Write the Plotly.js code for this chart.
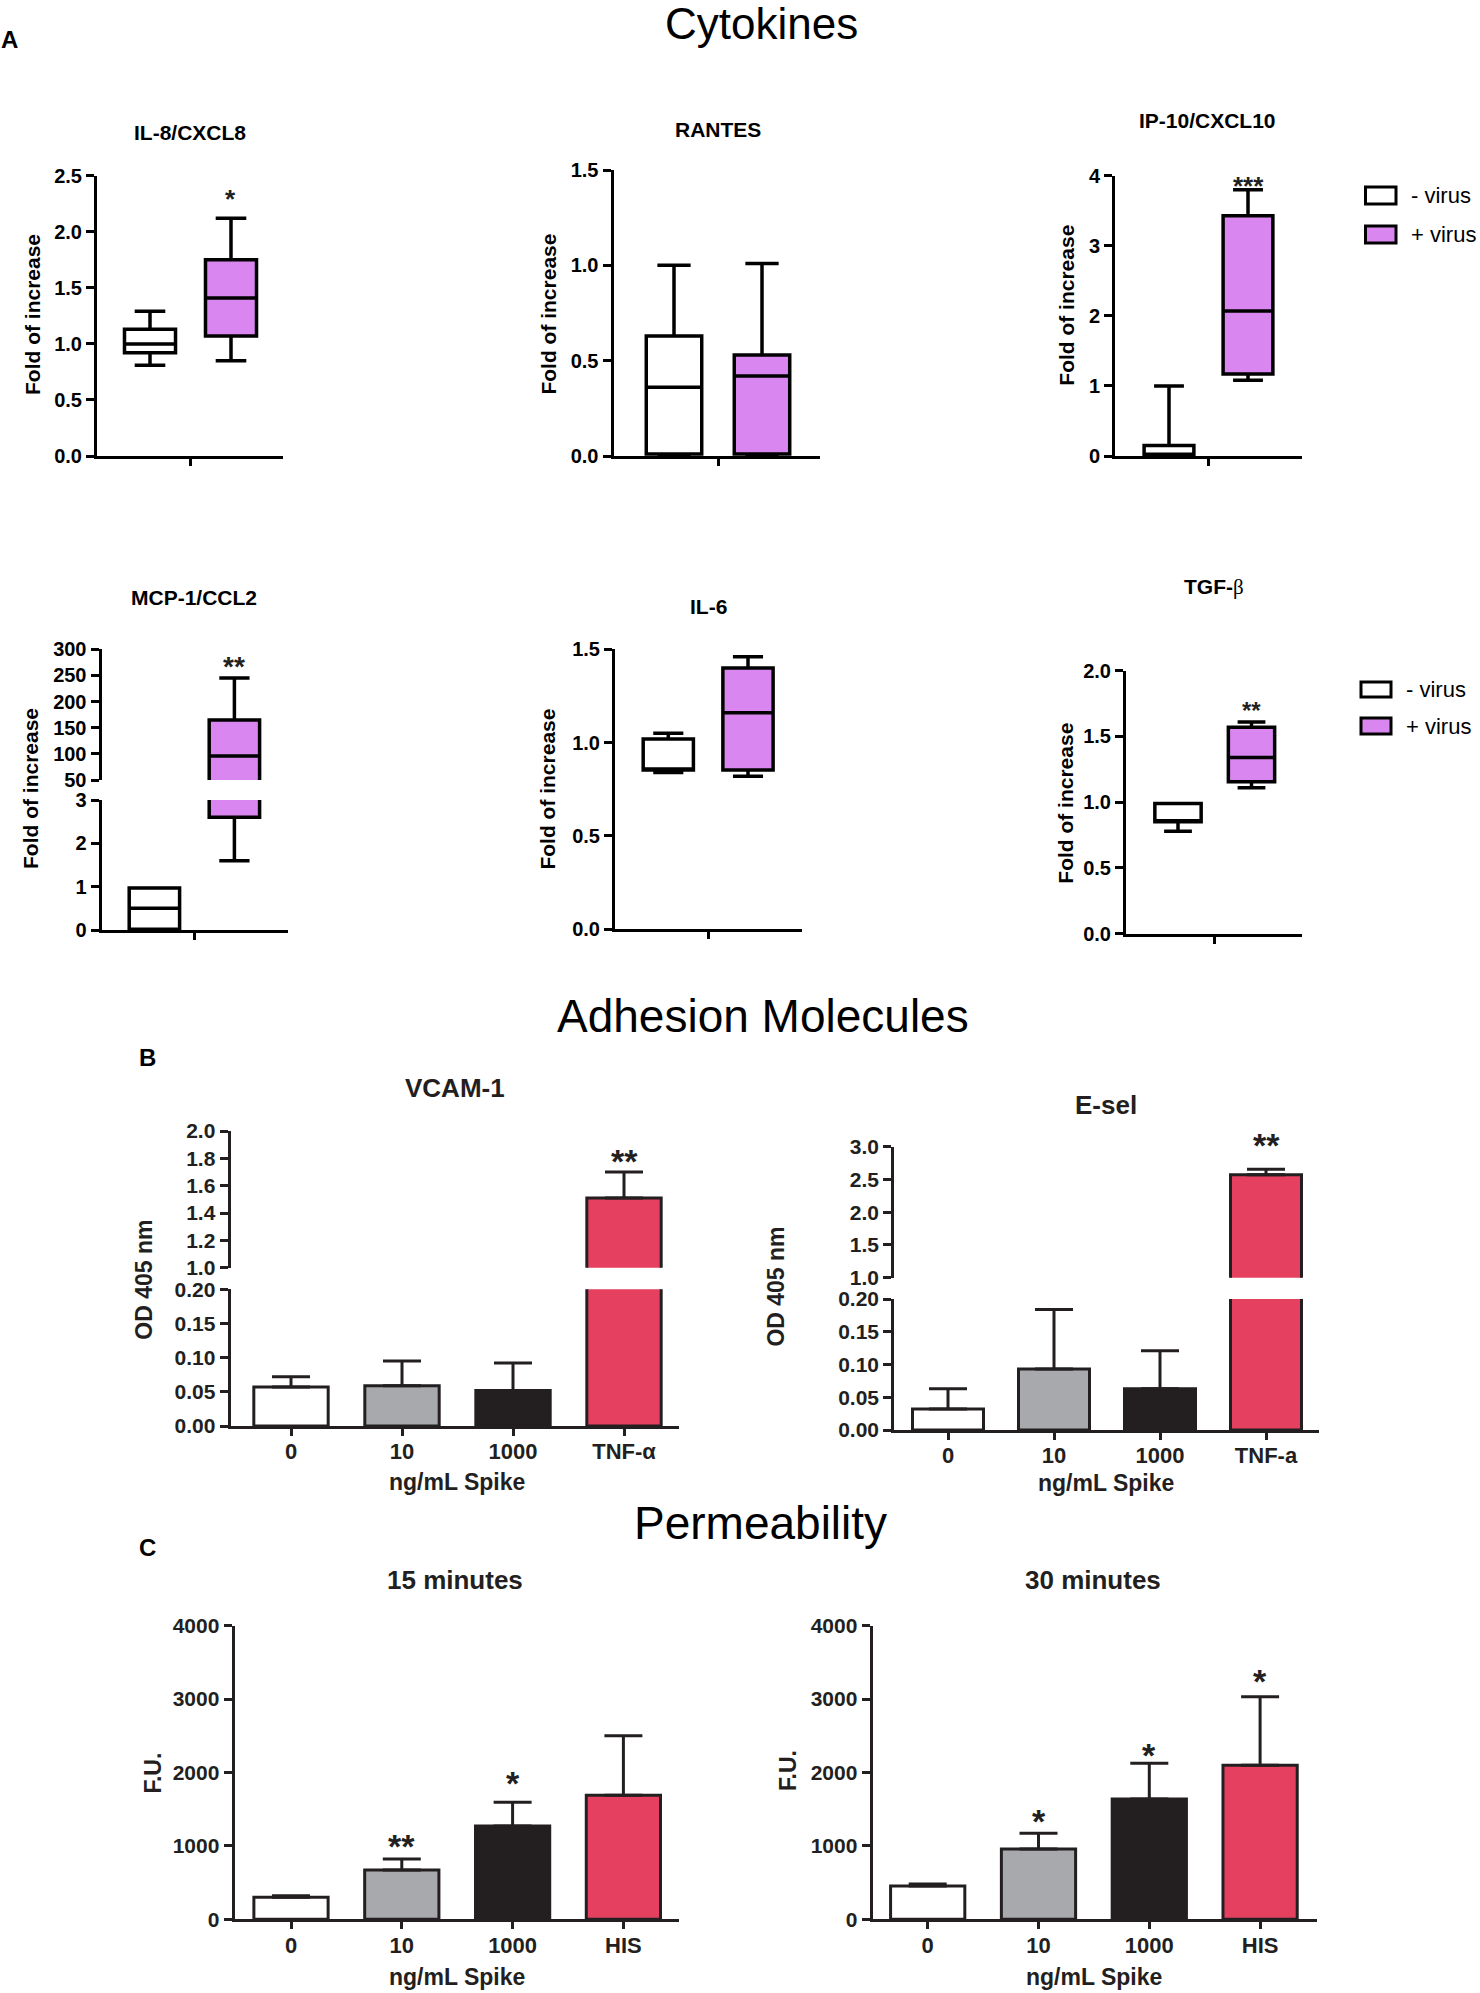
<!DOCTYPE html>
<html>
<head>
<meta charset="utf-8">
<script src="https://cdn.plot.ly/plotly-3.0.1.min.js"></script>
<style>html,body{margin:0;padding:0;background:#fff;}</style>
</head>
<body>
<div id="chart" style="width:1480px;height:1993px;"></div>
<script>
// ================= DATA =================
// Box stats order: [lower whisker, Q1, median, Q3, upper whisker]
const groupLabels = ['- virus', '+ virus'];
const il8Minus    = [0.81, 0.92, 1.00, 1.13, 1.29];
const il8Plus     = [0.85, 1.07, 1.41, 1.75, 2.12];
const rantesMinus = [0.00, 0.01, 0.36, 0.63, 1.00];
const rantesPlus  = [0.00, 0.01, 0.42, 0.53, 1.01];
const ip10Minus   = [0.00, 0.01, 0.02, 0.15, 1.00];
const ip10Plus    = [1.08, 1.17, 2.07, 3.43, 3.80];
const mcpMinus    = [0.00, 0.02, 0.50, 0.97, 0.97];
const mcpPlus     = [1.6, 2.6, 96, 165, 245];
const il6Minus    = [0.84, 0.854, 0.855, 1.02, 1.05];
const il6Plus     = [0.82, 0.854, 1.16, 1.40, 1.46];
const tgfMinus    = [0.78, 0.852, 0.853, 0.99, 0.99];
const tgfPlus     = [1.11, 1.156, 1.34, 1.57, 1.61];
const il8Sig = ['', '*'], rantesSig = ['', ''], ip10Sig = ['', '***'];
const mcpSig = ['', '**'], il6Sig = ['', ''], tgfSig = ['', '**'];

// Bar panels
const vcamLabels  = ['0', '10', '1000', 'TNF-α'];
const eselLabels  = ['0', '10', '1000', 'TNF-a'];
const permLabels  = ['0', '10', '1000', 'HIS'];
const vcamMean    = [0.057, 0.059, 0.052, 1.51];
const vcamErr     = [0.015, 0.036, 0.040, 0.19];
const eselMean    = [0.032, 0.093, 0.063, 2.57];
const eselErr     = [0.031, 0.091, 0.058, 0.085];
const perm15Mean  = [300, 672, 1271, 1689];
const perm15Err   = [22, 150, 323, 813];
const perm30Mean  = [454, 958, 1639, 2098];
const perm30Err   = [27, 213, 486, 935];
const vcamSig = ['', '', '', '**'], eselSig = ['', '', '', '**'];
const perm15Sig = ['', '**', '*', ''], perm30Sig = ['', '*', '*', '*'];

// Tick values
const il8Ticks = [0, 0.5, 1.0, 1.5, 2.0, 2.5];
const rantesTicks = [0, 0.5, 1.0, 1.5];
const ip10Ticks = [0, 1, 2, 3, 4];
const mcpLowTicks = [0, 1, 2, 3];
const mcpHighTicks = [50, 100, 150, 200, 250, 300];
const il6Ticks = [0, 0.5, 1.0, 1.5];
const tgfTicks = [0, 0.5, 1.0, 1.5, 2.0];
const odLowTicks = [0, 0.05, 0.10, 0.15, 0.20];
const vcamHighTicks = [1.0, 1.2, 1.4, 1.6, 1.8, 2.0];
const eselHighTicks = [1.0, 1.5, 2.0, 2.5, 3.0];
const fuTicks = [0, 1000, 2000, 3000, 4000];

// ================= STYLE / LAYOUT =================
const W = 1480, H = 1993;
const FONT = '"Liberation Sans", Arial, Helvetica, sans-serif';
const INK = '#000000', INK2 = '#231F20';
const PURPLE = '#DA86F0';
const BAR_COLORS = ['#FFFFFF', '#A7A9AC', '#231F20', '#E5405F'];
const px = v => v / W;
const py = v => 1 - v / H;

// panel geometry (pixels): x-left, x-right, first category centre, category spacing
const G = {
  il8:    {xl: 97,    xr: 283,    c0: 150,   s: 81,    yt: 175.7, yb: 456},
  rantes: {xl: 613.5, xr: 820,    c0: 674,   s: 88,    yt: 170,   yb: 456},
  ip10:   {xl: 1115,  xr: 1302,   c0: 1169,  s: 79,    yt: 175.7, yb: 456},
  mcp:    {xl: 101.5, xr: 288,    c0: 154.4, s: 80,    yt: 800,   yb: 930, ytU: 649.3, ybU: 780},
  il6:    {xl: 615,   xr: 801.7,  c0: 668.3, s: 79.7,  yt: 649.3, yb: 929.3},
  tgf:    {xl: 1126,  xr: 1301.7, c0: 1178,  s: 73.5,  yt: 670.7, yb: 933.7},
  vcam:   {xl: 230.6, xr: 679.4,  c0: 291,   s: 111,   yt: 1289.3, yb: 1426, ytU: 1131, ybU: 1267.7},
  esel:   {xl: 894.2, xr: 1319,   c0: 948,   s: 106,   yt: 1299,  yb: 1430, ytU: 1146.7, ybU: 1277.7},
  p15:    {xl: 234.6, xr: 679.4,  c0: 291,   s: 110.8, yt: 1625.7, yb: 1919.3},
  p30:    {xl: 872.6, xr: 1317.3, c0: 927.7, s: 110.8, yt: 1625.7, yb: 1919.3}
};

function axBase(color) {
  return {showline: true, linecolor: color, linewidth: 3, ticks: 'outside', ticklen: 8,
          tickwidth: 3, tickcolor: color, showgrid: false, zeroline: false,
          fixedrange: true, tickmode: 'array', type: 'linear'};
}
function xAx(g, anchor, tickvals, ticktext, color, size) {
  return Object.assign(axBase(color), {
    domain: [px(g.xl), px(g.xr)], anchor: anchor, ticklen: 7, ticklabelstandoff: -3,
    range: [(g.xl - g.c0) / g.s, (g.xr - g.c0) / g.s],
    tickvals: tickvals, ticktext: ticktext,
    tickfont: {family: FONT, size: size, color: color, weight: 'bold'}
  });
}
function yAx(yt, yb, ticks, dec, anchor, color, size) {
  return Object.assign(axBase(color), {
    domain: [py(yb), py(yt)], anchor: anchor,
    range: [ticks[0], ticks[ticks.length - 1]],
    tickvals: ticks, ticktext: ticks.map(v => v.toFixed(dec)),
    tickfont: {family: FONT, size: size, color: color, weight: 'bold'}
  });
}

const data = [];
function addBoxes(xa, ya, minus, plus) {
  [minus, plus].forEach((q, i) => {
    data.push({
      type: 'box', name: groupLabels[i], xaxis: xa, yaxis: ya, x: [i],
      lowerfence: [q[0]], q1: [q[1]], median: [q[2]], q3: [q[3]], upperfence: [q[4]],
      fillcolor: i ? PURPLE : '#FFFFFF', line: {color: INK, width: 3.5},
      width: 0.63, whiskerwidth: 0.6, boxpoints: false, hoverinfo: 'skip'
    });
  });
}
function addBars(xa, ya, means, errs) {
  data.push({
    type: 'bar', xaxis: xa, yaxis: ya, x: means.map((_, i) => i), y: means, width: 0.67,
    marker: {color: BAR_COLORS, line: {color: INK2, width: 3}},
    error_y: {type: 'data', symmetric: false, array: errs, arrayminus: errs.map(() => 0),
              color: INK2, thickness: 3, width: 19},
    hoverinfo: 'skip'
  });
}

// ---- traces ----
addBoxes('x', 'y', il8Minus, il8Plus);
addBoxes('x2', 'y2', rantesMinus, rantesPlus);
addBoxes('x3', 'y3', ip10Minus, ip10Plus);
addBoxes('x4', 'y4', mcpMinus, mcpPlus);      // lower segment 0-3
addBoxes('x4', 'y5', mcpMinus, mcpPlus);      // upper segment 50-300
addBoxes('x5', 'y6', il6Minus, il6Plus);
addBoxes('x6', 'y7', tgfMinus, tgfPlus);
addBars('x7', 'y8', vcamMean, vcamErr);       // lower 0-0.2
addBars('x7', 'y9', vcamMean, vcamErr);       // upper 1-2
addBars('x8', 'y10', eselMean, eselErr);
addBars('x8', 'y11', eselMean, eselErr);
addBars('x9', 'y12', perm15Mean, perm15Err);
addBars('x10', 'y13', perm30Mean, perm30Err);

const layout = {
  width: W, height: H, margin: {l: 0, r: 0, t: 0, b: 0},
  paper_bgcolor: '#FFFFFF', plot_bgcolor: 'rgba(0,0,0,0)',
  showlegend: false, hovermode: false, boxmode: 'overlay', barmode: 'overlay',
  font: {family: FONT, color: INK},
  annotations: [], shapes: []
};

const A_TICK = 20;
const idx2 = [0.5];
layout.xaxis   = xAx(G.il8, 'y', idx2, [''], INK, A_TICK);
layout.yaxis   = yAx(G.il8.yt, G.il8.yb, il8Ticks, 1, 'x', INK, A_TICK);
layout.xaxis2  = xAx(G.rantes, 'y2', idx2, [''], INK, A_TICK);
layout.yaxis2  = yAx(G.rantes.yt, G.rantes.yb, rantesTicks, 1, 'x2', INK, A_TICK);
layout.xaxis3  = xAx(G.ip10, 'y3', idx2, [''], INK, A_TICK);
layout.yaxis3  = yAx(G.ip10.yt, G.ip10.yb, ip10Ticks, 0, 'x3', INK, A_TICK);
layout.xaxis4  = xAx(G.mcp, 'y4', idx2, [''], INK, A_TICK);
layout.yaxis4  = yAx(G.mcp.yt, G.mcp.yb, mcpLowTicks, 0, 'x4', INK, A_TICK);
layout.yaxis5  = yAx(G.mcp.ytU, G.mcp.ybU, mcpHighTicks, 0, 'x4', INK, A_TICK);
layout.xaxis5  = xAx(G.il6, 'y6', idx2, [''], INK, A_TICK);
layout.yaxis6  = yAx(G.il6.yt, G.il6.yb, il6Ticks, 1, 'x5', INK, A_TICK);
layout.xaxis6  = xAx(G.tgf, 'y7', idx2, [''], INK, A_TICK);
layout.yaxis7  = yAx(G.tgf.yt, G.tgf.yb, tgfTicks, 1, 'x6', INK, A_TICK);

const idx4 = [0, 1, 2, 3];
layout.xaxis7  = xAx(G.vcam, 'y8', idx4, vcamLabels, INK2, 22);
layout.yaxis8  = yAx(G.vcam.yt, G.vcam.yb, odLowTicks, 2, 'x7', INK2, 21);
layout.yaxis9  = yAx(G.vcam.ytU, G.vcam.ybU, vcamHighTicks, 1, 'x7', INK2, 21);
layout.xaxis8  = xAx(G.esel, 'y10', idx4, eselLabels, INK2, 22);
layout.yaxis10 = yAx(G.esel.yt, G.esel.yb, odLowTicks, 2, 'x8', INK2, 21);
layout.yaxis11 = yAx(G.esel.ytU, G.esel.ybU, eselHighTicks, 1, 'x8', INK2, 21);
layout.xaxis9  = xAx(G.p15, 'y12', idx4, permLabels, INK2, 22);
layout.yaxis12 = yAx(G.p15.yt, G.p15.yb, fuTicks, 0, 'x9', INK2, 21);
layout.xaxis10 = xAx(G.p30, 'y13', idx4, permLabels, INK2, 22);
layout.yaxis13 = yAx(G.p30.yt, G.p30.yb, fuTicks, 0, 'x10', INK2, 21);

// ---- text ----
function ann(text, x, y, size, opt) {
  opt = opt || {};
  layout.annotations.push({
    text: text, x: px(x), y: py(y), xref: 'paper', yref: 'paper', showarrow: false,
    xanchor: opt.xanchor || 'center', yanchor: 'middle', textangle: opt.angle || 0,
    font: {family: FONT, size: size, color: opt.color || INK, weight: opt.weight || 'bold'}
  });
}
// section titles
ann('Cytokines', 762, 24, 44, {weight: 'normal'});
ann('Adhesion Molecules', 763, 1016, 46, {weight: 'normal'});
ann('Permeability', 760, 1523, 46, {weight: 'normal'});
ann('A', 9, 40, 24);
ann('B', 147, 1057, 24);
ann('C', 147, 1547, 24);

// panel titles
ann('IL-8/CXCL8', 190, 132, 21);
ann('RANTES', 718, 130, 21);
ann('IP-10/CXCL10', 1207, 120, 21);
ann('MCP-1/CCL2', 194.5, 597, 21);
ann('IL-6', 708, 606, 21);
ann('TGF-<span style="font-family:\'Liberation Serif\',serif;font-weight:normal">β</span>', 1214, 587, 21);
ann('VCAM-1', 455, 1088, 26, {color: INK2});
ann('E-sel', 1106, 1105, 26, {color: INK2});
ann('15 minutes', 455, 1580, 26, {color: INK2});
ann('30 minutes', 1093, 1580, 26, {color: INK2});

// axis titles
[[32, 315], [547.6, 314], [1065.7, 305], [31, 789], [547.6, 789], [1064.7, 803]].forEach(p =>
  ann('Fold of increase', p[0], p[1], 21, {angle: -90}));
ann('OD 405 nm', 143.7, 1280, 23, {angle: -90, color: INK2});
ann('OD 405 nm', 775.6, 1287, 23, {angle: -90, color: INK2});
ann('F.U.', 152.6, 1773, 23, {angle: -90, color: INK2});
ann('F.U.', 788, 1771, 23, {angle: -90, color: INK2});
ann('ng/mL Spike', 457, 1482, 23, {color: INK2});
ann('ng/mL Spike', 1106, 1483, 23, {color: INK2});
ann('ng/mL Spike', 457, 1977, 23, {color: INK2});
ann('ng/mL Spike', 1094, 1977, 23, {color: INK2});

// significance marks (category index -> centre; vertical pixel position)
function sig(labels, g, ys, size) {
  labels.forEach((t, i) => {
    if (!t) return;
    ann(t, g.c0 + i * g.s, ys[i] + 0.23 * size, size, {weight: 'bold', color: INK2});
  });
}
sig(il8Sig, G.il8, [0, 193], 26);
sig(ip10Sig, G.ip10, [0, 180], 26);
sig(mcpSig, G.mcp, [0, 660], 28);
sig(tgfSig, G.tgf, [0, 705], 24);
sig(vcamSig, G.vcam, [0, 0, 0, 1153], 34);
sig(eselSig, G.esel, [0, 0, 0, 1137], 34);
sig(perm15Sig, G.p15, [0, 1838, 1775, 0], 34);
sig(perm30Sig, G.p30, [0, 1813, 1747, 1673], 34);

// legends
function legend(x0, x1, rows, tx) {
  rows.forEach((r, i) => {
    layout.shapes.push({type: 'rect', xref: 'paper', yref: 'paper',
      x0: px(x0), x1: px(x1), y0: py(r[1]), y1: py(r[0]),
      fillcolor: i ? PURPLE : '#FFFFFF', line: {color: INK, width: 3}});
    ann(groupLabels[i], tx, (r[0] + r[1]) / 2, 22, {xanchor: 'left', weight: 'normal'});
  });
}
legend(1365.5, 1396, [[187, 204], [226, 243]], 1409);
legend(1361, 1391, [[682, 697], [718, 734]], 1404);

Plotly.newPlot('chart', data, layout, {staticPlot: true, displayModeBar: false});
</script>
</body>
</html>
